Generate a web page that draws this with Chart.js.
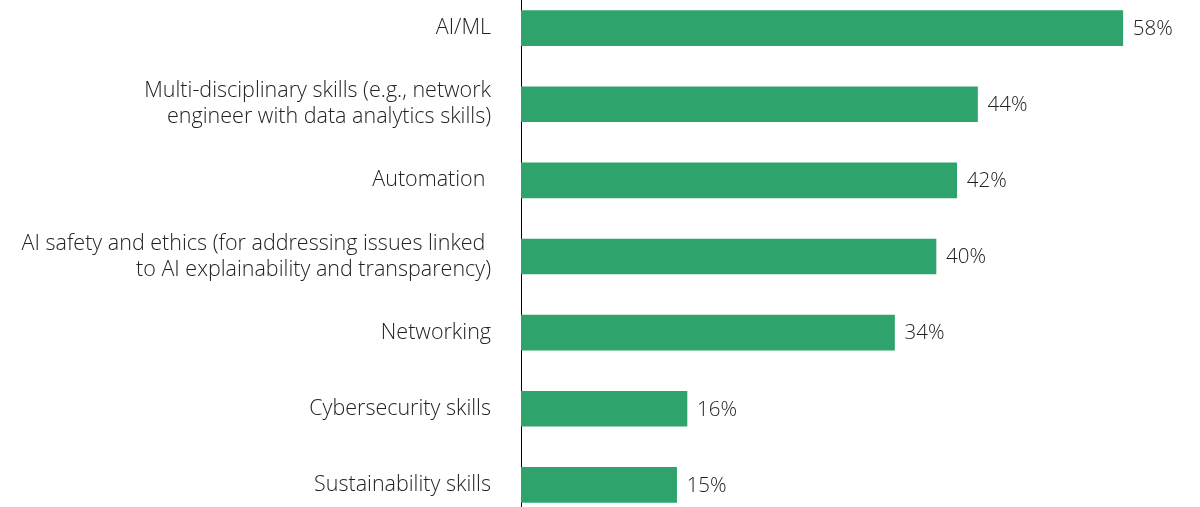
<!DOCTYPE html>
<html>
<head>
<meta charset="utf-8">
<script src="https://cdn.jsdelivr.net/npm/chart.js@4.4.1/dist/chart.umd.min.js"></script>
<style>
  html, body { margin: 0; padding: 0; background: #ffffff; overflow: hidden; }
  #wrap { position: absolute; left: 0; top: -10px; width: 1200px; height: 533px; }
</style>
</head>
<body>
<div id="wrap"><canvas id="c"></canvas></div>
<script>
// Categories (multi-line labels as arrays)
const categories = [
  "AI/ML",
  ["Multi-disciplinary skills (e.g., network", "engineer with data analytics skills)"],
  "Automation ",
  ["AI safety and ethics (for addressing issues linked ", "to AI explainability and transparency)"],
  "Networking",
  "Cybersecurity skills",
  "Sustainability skills"
];
// Bar lengths as drawn in the reference (percent)
const barValues = [58, 44, 42, 40, 36, 16, 15];
// Value labels as printed in the reference
const valueLabels = ["58%", "44%", "42%", "40%", "34%", "16%", "15%"];

const FONT = "'Open Sans', 'Lato', 'DejaVu Sans', sans-serif";

const valueLabelPlugin = {
  id: 'valueLabels',
  afterDatasetsDraw(chart) {
    const ctx = chart.ctx;
    const meta = chart.getDatasetMeta(0);
    ctx.save();
    ctx.font = "300 20.5px " + FONT;
    ctx.fillStyle = '#222222';
    ctx.textAlign = 'left';
    ctx.textBaseline = 'middle';
    meta.data.forEach((bar, i) => {
      ctx.fillText(valueLabels[i], bar.x + 10, bar.y + 1);
    });
    ctx.restore();
  }
};

new Chart(document.getElementById('c'), {
  type: 'bar',
  data: {
    labels: categories,
    datasets: [{
      data: barValues,
      backgroundColor: '#2ea36b',
      borderWidth: 0,
      barThickness: 35
    }]
  },
  options: {
    indexAxis: 'y',
    responsive: true,
    maintainAspectRatio: false,
    animation: false,
    layout: { padding: { left: 0, right: 15, top: 0, bottom: 0 } },
    plugins: {
      legend: { display: false },
      tooltip: { enabled: false }
    },
    scales: {
      x: {
        min: 0,
        max: 64,
        display: false,
        grid: { display: false }
      },
      y: {
        afterFit(scale) {
          scale.width = 521;
          scale.paddingTop = 0;
          scale.paddingBottom = 0;
        },
        grid: { display: false, drawTicks: false },
        border: { display: true, color: '#000000', width: 1 },
        ticks: {
          padding: 30,
          color: '#222222',
          font: { family: FONT, size: 21.5, weight: '300', lineHeight: 1.22 }
        }
      }
    }
  },
  plugins: [valueLabelPlugin]
});
</script>
</body>
</html>
